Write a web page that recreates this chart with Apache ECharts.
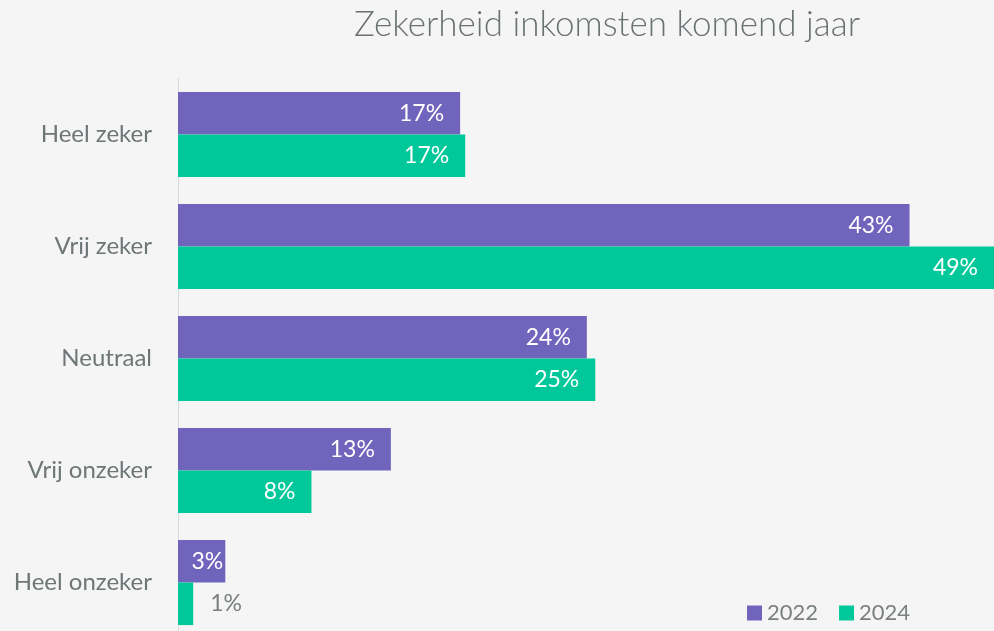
<!DOCTYPE html>
<html>
<head>
<meta charset="utf-8">
<script src="https://cdn.jsdelivr.net/npm/echarts@6/dist/echarts.min.js"></script>
<style>
html,body{margin:0;padding:0;background:#f5f5f5;overflow:hidden;}
#chart{width:994px;height:640px;}
</style>
</head>
<body>
<div id="chart"></div>
<script>
const titleText = 'Zekerheid inkomsten komend jaar';
const categories = ['Heel zeker', 'Vrij zeker', 'Neutraal', 'Vrij onzeker', 'Heel onzeker'];
const seriesNames = ['2022', '2024'];
const values2022 = [16.7, 43.3, 24.2, 12.6, 2.8];
const values2024 = [17.0, 49.2, 24.7, 7.9, 0.9];
const colors = ['#7064bc', '#00c89b'];

const FONT = 'Lato';
const labelFmt = p => Math.round(p.value) + '%';

function makeData(vals) {
  return vals.map(v => {
    if (v < 2) {
      return { value: v, label: { position: 'right', color: '#7a7f80', distance: 17 } };
    }
    if (v < 4) {
      return { value: v, label: { distance: 2 } };
    }
    return v;
  });
}

const chart = echarts.init(document.getElementById('chart'), null, { renderer: 'canvas' });
chart.setOption({
  backgroundColor: '#f5f5f5',
  animation: false,
  textStyle: { fontFamily: FONT },
  title: {
    text: titleText,
    left: 349,
    top: 2,
    textStyle: { fontFamily: FONT, fontSize: 35, fontWeight: 300, color: '#6b7274' }
  },
  legend: {
    data: seriesNames,
    left: 742,
    top: 597,
    icon: 'rect',
    itemWidth: 15,
    itemHeight: 15,
    itemGap: 21,
    textStyle: { fontFamily: FONT, fontSize: 22, color: '#7a7f80' }
  },
  grid: { left: 178, top: 78.5, width: 816, height: 560, containLabel: false },
  xAxis: {
    type: 'value', min: 0, max: 48.3, show: false, splitLine: { show: false }
  },
  yAxis: {
    type: 'category',
    data: categories,
    inverse: true,
    axisTick: { show: false },
    axisLine: { show: true, lineStyle: { color: '#d9d9d9', width: 1 } },
    axisLabel: { margin: 26, fontFamily: FONT, fontSize: 24, color: '#6f7677' }
  },
  series: [
    {
      name: seriesNames[0], type: 'bar', data: makeData(values2022),
      itemStyle: { color: colors[0] },
      barGap: '0%', barCategoryGap: '24%',
      label: { show: true, position: 'insideRight', distance: 16, color: '#ffffff', fontFamily: FONT, fontSize: 23, formatter: labelFmt }
    },
    {
      name: seriesNames[1], type: 'bar', data: makeData(values2024),
      itemStyle: { color: colors[1] },
      barGap: '0%', barCategoryGap: '24%',
      label: { show: true, position: 'insideRight', distance: 16, color: '#ffffff', fontFamily: FONT, fontSize: 23, formatter: labelFmt }
    }
  ]
});
</script>
</body>
</html>
